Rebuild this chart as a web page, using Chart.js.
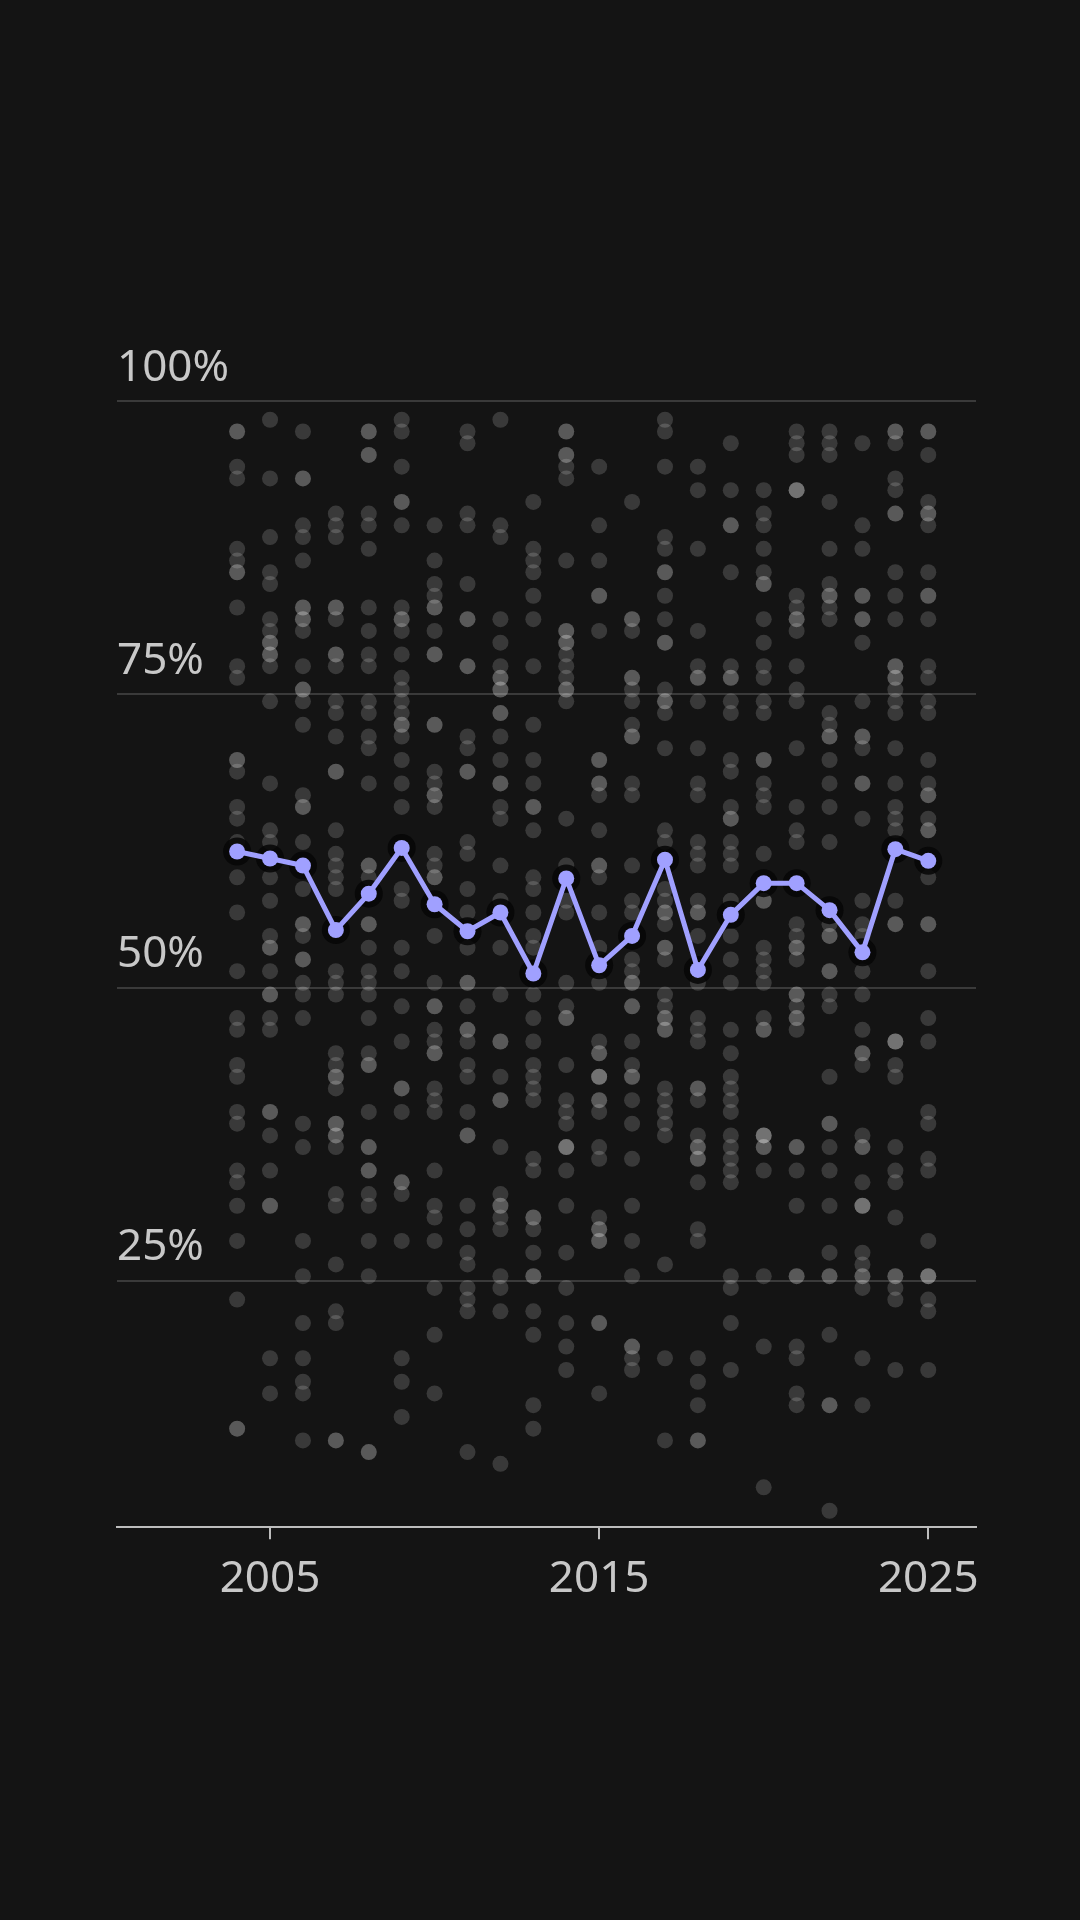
<!DOCTYPE html>
<html>
<head>
<meta charset="utf-8">
<script src="https://cdn.jsdelivr.net/npm/chart.js@4.4.1/dist/chart.umd.min.js"></script>
<style>
html,body{margin:0;padding:0;background:#141414;}
#wrap{width:1080px;height:1920px;position:relative;}
</style>
</head>
<body>
<div id="wrap"><canvas id="c"></canvas></div>
<script>
const years = [2004,2005,2006,2007,2008,2009,2010,2011,2012,2013,2014,2015,2016,2017,2018,2019,2020,2021,2022,2023,2024,2025];

const y2004 = [97.4,97.4,94.4,93.4,87.4,86.4,85.4,85.4,82.4,77.4,76.4,69.4,69.4,68.4,65.4,64.4,62.4,59.4,56.4,51.4,47.4,46.4,43.4,42.4,39.4,38.4,34.4,33.4,31.4,28.4,23.4,12.4,12.4];
const y2005 = [98.4,93.4,88.4,85.4,84.4,81.4,80.4,79.4,79.4,78.4,78.4,77.4,74.4,67.4,63.4,62.4,59.4,57.4,54.4,53.4,53.4,51.4,49.4,49.4,47.4,46.4,39.4,39.4,37.4,34.4,31.4,31.4,18.4,15.4];
const y2006 = [97.4,93.4,93.4,89.4,88.4,86.4,82.4,82.4,81.4,81.4,80.4,77.4,75.4,75.4,74.4,72.4,66.4,65.4,65.4,62.4,58.4,55.4,55.4,54.4,52.4,52.4,50.4,49.4,47.4,38.4,36.4,28.4,25.4,21.4,18.4,16.4,15.4,11.4];
const y2007 = [90.4,89.4,88.4,82.4,82.4,81.4,78.4,78.4,77.4,74.4,73.4,71.4,68.4,68.4,63.4,61.4,60.4,59.4,58.4,51.4,50.4,49.4,44.4,43.4,42.4,42.4,41.4,38.4,38.4,37.4,37.4,36.4,32.4,31.4,26.4,22.4,21.4,11.4,11.4];
const y2008 = [97.4,97.4,95.4,95.4,90.4,89.4,87.4,82.4,80.4,78.4,77.4,74.4,73.4,71.4,70.4,67.4,60.4,60.4,59.4,55.4,55.4,53.4,51.4,50.4,49.4,47.4,44.4,43.4,43.4,39.4,36.4,36.4,34.4,34.4,32.4,31.4,28.4,25.4,10.4,10.4];
const y2009 = [98.4,97.4,94.4,91.4,91.4,89.4,82.4,81.4,81.4,80.4,78.4,76.4,75.4,74.4,73.4,72.4,72.4,71.4,69.4,67.4,65.4,58.4,57.4,53.4,51.4,48.4,45.4,41.4,41.4,39.4,33.4,33.4,32.4,28.4,18.4,16.4,13.4];
const y2010 = [89.4,86.4,84.4,83.4,82.4,82.4,80.4,78.4,78.4,72.4,72.4,68.4,67.4,66.4,66.4,65.4,61.4,60.4,59.4,59.4,54.4,50.4,48.4,48.4,46.4,45.4,44.4,44.4,41.4,40.4,39.4,34.4,31.4,30.4,28.4,24.4,20.4,15.4];
const y2011 = [97.4,96.4,90.4,89.4,84.4,81.4,81.4,77.4,77.4,71.4,70.4,68.4,68.4,62.4,61.4,58.4,56.4,53.4,50.4,50.4,48.4,46.4,46.4,45.4,43.4,42.4,39.4,37.4,37.4,31.4,29.4,27.4,26.4,24.4,23.4,22.4,10.4];
const y2012 = [98.4,89.4,88.4,81.4,79.4,77.4,76.4,76.4,75.4,75.4,73.4,73.4,71.4,69.4,67.4,67.4,65.4,64.4,60.4,57.4,53.4,49.4,45.4,45.4,42.4,40.4,40.4,36.4,32.4,31.4,31.4,30.4,29.4,25.4,24.4,22.4,9.4];
const y2013 = [91.4,87.4,86.4,85.4,83.4,81.4,77.4,72.4,69.4,67.4,65.4,65.4,63.4,59.4,58.4,56.4,54.4,53.4,49.4,47.4,45.4,43.4,42.4,41.4,40.4,35.4,34.4,30.4,30.4,29.4,27.4,25.4,25.4,22.4,20.4,14.4,12.4];
const y2014 = [97.4,97.4,95.4,95.4,94.4,93.4,86.4,80.4,80.4,79.4,79.4,78.4,77.4,76.4,75.4,75.4,74.4,64.4,60.4,57.4,56.4,50.4,48.4,47.4,47.4,43.4,40.4,39.4,38.4,36.4,36.4,36.4,34.4,31.4,27.4,24.4,21.4,19.4,17.4];
const y2015 = [94.4,89.4,86.4,83.4,83.4,80.4,69.4,69.4,67.4,67.4,66.4,63.4,60.4,60.4,59.4,56.4,53.4,50.4,45.4,44.4,44.4,42.4,42.4,42.4,40.4,40.4,39.4,36.4,35.4,30.4,29.4,29.4,28.4,28.4,21.4,21.4,15.4];
const y2016 = [91.4,81.4,81.4,80.4,76.4,76.4,75.4,74.4,72.4,71.4,71.4,67.4,66.4,60.4,57.4,56.4,52.4,51.4,50.4,50.4,48.4,48.4,45.4,43.4,42.4,42.4,40.4,38.4,35.4,31.4,28.4,25.4,19.4,19.4,18.4,17.4];
const y2017 = [98.4,97.4,94.4,88.4,87.4,85.4,85.4,83.4,81.4,79.4,79.4,75.4,74.4,74.4,73.4,70.4,63.4,62.4,58.4,57.4,56.4,56.4,55.4,53.4,53.4,52.4,49.4,48.4,47.4,47.4,46.4,46.4,41.4,40.4,39.4,38.4,37.4,26.4,18.4,11.4];
const y2018 = [94.4,92.4,87.4,80.4,77.4,76.4,76.4,74.4,70.4,67.4,66.4,62.4,61.4,60.4,57.4,56.4,56.4,54.4,50.4,47.4,46.4,45.4,41.4,41.4,40.4,37.4,36.4,36.4,35.4,35.4,33.4,29.4,28.4,18.4,16.4,14.4,11.4,11.4];
const y2019 = [96.4,92.4,89.4,89.4,85.4,77.4,76.4,76.4,74.4,73.4,69.4,68.4,65.4,64.4,64.4,62.4,61.4,60.4,57.4,54.4,52.4,50.4,46.4,44.4,42.4,41.4,40.4,39.4,37.4,36.4,35.4,34.4,33.4,25.4,24.4,21.4,17.4];
const y2020 = [92.4,90.4,89.4,87.4,85.4,84.4,84.4,81.4,79.4,77.4,76.4,74.4,73.4,69.4,69.4,67.4,66.4,65.4,61.4,57.4,57.4,53.4,52.4,51.4,50.4,47.4,46.4,46.4,37.4,37.4,37.4,36.4,36.4,34.4,25.4,19.4,7.4];
const y2021 = [97.4,96.4,95.4,92.4,92.4,92.4,83.4,82.4,81.4,81.4,80.4,77.4,75.4,74.4,70.4,65.4,63.4,62.4,55.4,54.4,53.4,53.4,52.4,49.4,49.4,48.4,47.4,47.4,46.4,36.4,36.4,34.4,31.4,25.4,25.4,19.4,18.4,15.4,14.4];
const y2022 = [97.4,96.4,95.4,91.4,87.4,84.4,83.4,83.4,82.4,81.4,73.4,72.4,71.4,71.4,69.4,67.4,65.4,62.4,55.4,54.4,54.4,51.4,51.4,49.4,48.4,42.4,38.4,38.4,36.4,34.4,31.4,27.4,25.4,25.4,20.4,14.4,14.4,5.4];
const y2023 = [96.4,89.4,87.4,83.4,83.4,81.4,81.4,79.4,74.4,71.4,71.4,70.4,67.4,67.4,64.4,57.4,55.4,54.4,51.4,49.4,46.4,44.4,44.4,43.4,37.4,36.4,36.4,33.4,31.4,31.4,31.4,27.4,26.4,25.4,25.4,24.4,18.4,14.4];
const y2024 = [97.4,97.4,96.4,93.4,92.4,90.4,90.4,85.4,83.4,81.4,77.4,77.4,76.4,76.4,75.4,74.4,73.4,70.4,67.4,65.4,64.4,63.4,57.4,55.4,55.4,45.4,45.4,45.4,43.4,42.4,36.4,34.4,33.4,30.4,25.4,25.4,24.4,23.4,17.4];
const y2025 = [97.4,97.4,95.4,91.4,90.4,90.4,89.4,85.4,83.4,83.4,81.4,77.4,76.4,74.4,73.4,69.4,67.4,66.4,66.4,64.4,63.4,63.4,59.4,55.4,55.4,51.4,47.4,45.4,39.4,38.4,35.4,34.4,28.4,25.4,25.4,25.4,23.4,22.4,17.4];

const lineValues = [61.6,61.0,60.4,54.9,58.0,61.9,57.1,54.8,56.4,51.2,59.3,51.9,54.4,60.9,51.5,56.2,58.9,58.9,56.6,53.0,61.8,60.8];

const yTickValues = [25,50,75,100];
const xTickValues = [2005,2015,2025];

const dotColumns = [y2004,y2005,y2006,y2007,y2008,y2009,y2010,y2011,y2012,y2013,y2014,y2015,y2016,y2017,y2018,y2019,y2020,y2021,y2022,y2023,y2024,y2025];

function draw(){
  const dots = [];
  dotColumns.forEach((col,i)=>col.forEach(v=>dots.push({x:years[i],y:v})));
  const linePts = years.map((yr,i)=>({x:yr,y:lineValues[i]}));
  const font = {family:'"Noto Sans", "Open Sans", sans-serif', size:44};

  new Chart(document.getElementById('c'), {
    type:'scatter',
    data:{datasets:[
      {type:'scatter', data:dots, pointRadius:8, pointHoverRadius:8,
       backgroundColor:'rgba(255,255,255,0.16)', borderWidth:0, order:3},
      {type:'line', data:linePts, showLine:false, pointRadius:14, pointHoverRadius:14,
       pointBackgroundColor:'rgba(6,6,6,0.85)', pointBorderWidth:0, order:2},
      {type:'line', data:linePts, borderColor:'#a0a0ff', borderWidth:5, tension:0,
       borderJoinStyle:'round', borderCapStyle:'round',
       pointRadius:8, pointHoverRadius:8, pointBackgroundColor:'#a0a0ff', pointBorderWidth:0, order:1}
    ]},
    options:{
      responsive:true, maintainAspectRatio:false, animation:false,
      events:[],
      layout:{padding:{left:117, right:104, top:401, bottom:300}},
      plugins:{legend:{display:false}, tooltip:{enabled:false}},
      scales:{
        x:{type:'linear', min:2000.35, max:2026.45,
           afterBuildTicks:s=>{s.ticks = xTickValues.map(v=>({value:v}));},
           ticks:{color:'#c8c8c8', font:font, padding:14, maxRotation:0, autoSkip:false,
                  callback:v=>String(v)},
           grid:{display:true, drawOnChartArea:false, drawTicks:true, tickLength:12, color:'#bdbdbd', lineWidth:2},
           border:{display:true, color:'#bdbdbd', width:2}},
        y:{type:'linear', min:4, max:100,
           afterBuildTicks:s=>{s.ticks = yTickValues.map(v=>({value:v}));},
           ticks:{mirror:true, padding:0, labelOffset:-33, color:'#c8c8c8', font:font,
                  callback:v=>v+'%'},
           grid:{color:'#3a3a3a', lineWidth:2, drawTicks:false},
           border:{display:false}}
      }
    }
  });
}
if (document.fonts && document.fonts.load) {
  document.fonts.load('44px "Noto Sans"').then(draw, draw);
} else { draw(); }
</script>
</body>
</html>
